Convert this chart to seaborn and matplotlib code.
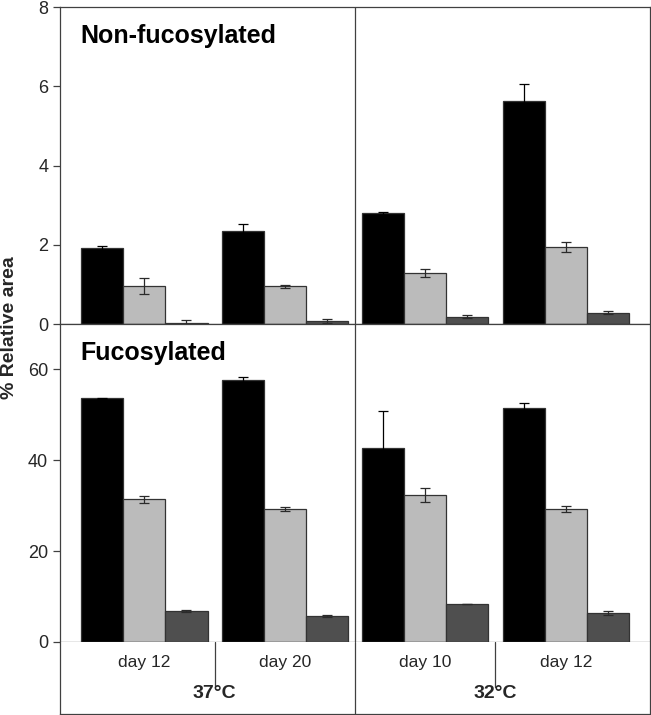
import numpy as np
import pandas as pd
import matplotlib
matplotlib.use("Agg")
import matplotlib.pyplot as plt
import seaborn as sns

# ---------------- data ----------------
conditions = ["day 12 / 37°C", "day 20 / 37°C", "day 10 / 32°C", "day 12 / 32°C"]
day_labels = ["day 12", "day 20", "day 10", "day 12"]
temp_labels = ["37°C", "32°C"]
series = ["G0", "G1", "G2"]
series_colors = ["#000000", "#BBBBBB", "#4F4F4F"]
err_colors = ["#000000", "#2a2a2a", "#2a2a2a"]

# Non-fucosylated (% relative area)
nonfuc_G0 = [1.91, 2.35, 2.79, 5.62]
nonfuc_G1 = [0.95, 0.95, 1.29, 1.94]
nonfuc_G2 = [0.03, 0.07, 0.18, 0.28]
nonfuc_G0_err = [0.06, 0.18, 0.03, 0.44]
nonfuc_G1_err = [0.20, 0.04, 0.10, 0.13]
nonfuc_G2_err = [0.06, 0.05, 0.04, 0.04]

# Fucosylated (% relative area)
fuc_G0 = [53.7, 57.6, 42.6, 51.5]
fuc_G1 = [31.4, 29.3, 32.4, 29.3]
fuc_G2 = [6.75, 5.8, 8.3, 6.4]
fuc_G0_err = [0.1, 0.7, 8.3, 1.2]
fuc_G1_err = [0.8, 0.5, 1.6, 0.7]
fuc_G2_err = [0.2, 0.2, 0.0, 0.35]


def long_df(vals):
    rows = []
    for s, v in zip(series, vals):
        for c, x in zip(conditions, v):
            rows.append({"condition": c, "series": s, "value": x})
    return pd.DataFrame(rows)


df_nonfuc = long_df([nonfuc_G0, nonfuc_G1, nonfuc_G2])
df_fuc = long_df([fuc_G0, fuc_G1, fuc_G2])
err_nonfuc = [nonfuc_G0_err, nonfuc_G1_err, nonfuc_G2_err]
err_fuc = [fuc_G0_err, fuc_G1_err, fuc_G2_err]

# ---------------- style ----------------
sns.set_theme(style="white")
plt.rcParams["font.family"] = ["Liberation Sans", "DejaVu Sans"]
line_col = "#404040"
lw = 0.9

fig = plt.figure(figsize=(6.51, 7.15), dpi=100)
L = 60 / 651
W = 590 / 651
ax_top = fig.add_axes([L, 1 - 324 / 715, W, 317 / 715])
ax_bot = fig.add_axes([L, 1 - 642 / 715, W, 318 / 715])
ax_lab = fig.add_axes([L, 1 - 714 / 715, W, 72 / 715])


def draw(ax, df, errs, ylim, yticks, title):
    sns.barplot(data=df, x="condition", y="value", hue="series",
                order=conditions, hue_order=series, palette=series_colors,
                width=0.9, errorbar=None, edgecolor="#333333", linewidth=lw,
                legend=False, ax=ax, zorder=2)
    for cont, e, ec in zip(ax.containers, errs, err_colors):
        xs = [p.get_x() + p.get_width() / 2 for p in cont.patches]
        ys = [p.get_height() for p in cont.patches]
        ax.errorbar(xs, ys, yerr=e, fmt="none", ecolor=ec,
                    elinewidth=lw, capsize=3.6, capthick=lw, zorder=3)
    ax.set_xlim(-0.6, 3.6)
    ax.set_ylim(*ylim)
    ax.set_yticks(yticks)
    ax.set_yticklabels([str(t) for t in yticks], fontsize=13)
    ax.set_xticks([])
    ax.set_xlabel("")
    ax.set_ylabel("")
    ax.tick_params(axis="y", which="both", direction="out", length=5,
                   width=lw, color=line_col, pad=3.5, left=True)
    for s in ax.spines.values():
        s.set_visible(True)
        s.set_color(line_col)
        s.set_linewidth(lw)
    ax.axvline(1.5, color=line_col, lw=lw, zorder=4)
    ax.text(0.034, 0.91, title, transform=ax.transAxes, fontsize=18,
            fontweight="bold", ha="left", va="center", color="black")


draw(ax_top, df_nonfuc, err_nonfuc, (0, 8), [0, 2, 4, 6, 8], "Non-fucosylated")
draw(ax_bot, df_fuc, err_fuc, (0, 70), [0, 20, 40, 60], "Fucosylated")

# label area below
ax_lab.set_xlim(-0.6, 3.6)
ax_lab.set_ylim(0, 1)
ax_lab.set_xticks([])
ax_lab.set_yticks([])
for k, s in ax_lab.spines.items():
    s.set_color(line_col)
    s.set_linewidth(lw)
ax_lab.spines["top"].set_visible(False)
ax_lab.axvline(1.5, color=line_col, lw=lw)
for xsep in (0.5, 2.5):
    ax_lab.plot([xsep, xsep], [1, (714 - 687) / 72], color=line_col, lw=lw)
for i, lab in enumerate(day_labels):
    ax_lab.text(i, (714 - 663) / 72, lab, ha="center", va="center", fontsize=12.5)
for j, lab in enumerate(temp_labels):
    ax_lab.text(0.5 + 2 * j, (714 - 694) / 72, lab, ha="center", va="center",
                fontsize=14, fontweight="bold")

fig.text(10 / 651, 1 - 328 / 715, "% Relative area", rotation=90, ha="center",
         va="center", fontsize=14, fontweight="bold")

fig.savefig("out.png", dpi=100)
